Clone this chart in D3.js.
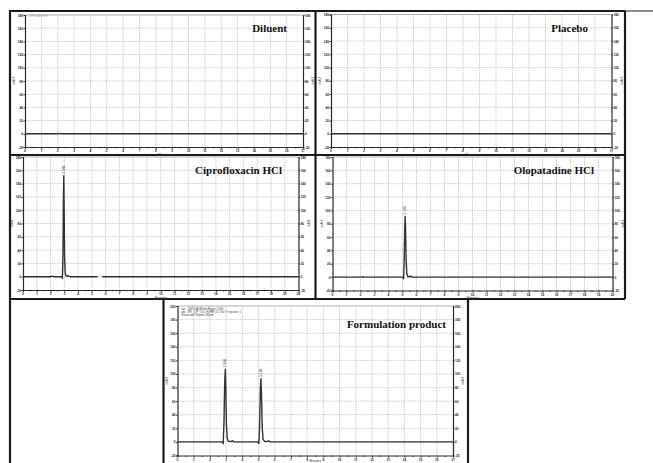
<!DOCTYPE html>
<html>
<head>
<meta charset="utf-8">
<script src="https://cdn.jsdelivr.net/npm/d3@7"></script>
<style>
  body { margin: 0; background: #fff; }
  svg { display: block; }
</style>
</head>
<body>
<svg id="chart" width="653" height="463"></svg>
<script>
// ---- data ----
const panelTitles = ["Diluent", "Placebo", "Ciprofloxacin HCl", "Olopatadine HCl", "Formulation product"];
const runMinutes = [17, 17, 20, 20, 17];
const yTicksStd = [-20, 0, 20, 40, 60, 80, 100, 120, 140, 160, 180];
const yTicksForm = [-20, 0, 20, 40, 60, 80, 100, 120, 140, 160, 180, 200];

// chromatogram traces: [minutes, mAU]; null marks a break in the trace
const diluentTrace = [[0, 0], [2.0, 0], [2.1, 0.6], [2.2, 0], [17, 0]];
const placeboTrace = [[0, 0], [17, 0]];
const ciproTrace = [
  [0, 0], [2.0, 0], [2.1, 0.8], [2.2, 0], [2.82, 0], [2.86, -2.5], [2.9, 30],
  [2.93, 110], [2.96, 152], [2.99, 95], [3.02, 30], [3.06, 6], [3.12, 1.5],
  [3.2, 0.5], [3.3, 1.6], [3.38, 0], [5.42, 0], null, [5.74, 0], [20, 0]
];
const olopatadineTrace = [
  [0, 0], [2.1, 0], [2.15, 0.6], [2.3, 0], [5.02, 0], [5.08, -2.5], [5.12, 25],
  [5.16, 75], [5.19, 91], [5.22, 70], [5.26, 25], [5.31, 5], [5.38, 1],
  [5.45, 0.5], [5.6, 1.8], [5.68, 0], [20, 0]
];
const formulationTrace = [
  [0, 0], [2.75, 0], [2.82, -2.5], [2.87, 30], [2.91, 85], [2.95, 107],
  [2.98, 80], [3.02, 25], [3.07, 5], [3.14, 1], [3.3, 0.5], [3.4, 1.8],
  [3.48, 0], [4.96, 0], [5.02, -2.5], [5.07, 25], [5.11, 75], [5.15, 93],
  [5.19, 65], [5.23, 20], [5.28, 4], [5.36, 1], [5.5, 0.5], [5.62, 1.6],
  [5.7, 0], [17, 0]
];
const peakLabels = [
  [],
  [],
  [{ t: 2.96, v: 152, text: "2.960" }],
  [{ t: 5.19, v: 91, text: "5.190" }],
  [{ t: 2.95, v: 107, text: "2.950" }, { t: 5.15, v: 93, text: "5.150" }]
];
const legendLines = [
  ["2487ChA 280nm Range: 2.000", "SPL_CIP_OLO_FORM_01; Vial: 3; Injection: 1", "Processed Channel: 280nm"]
];
const traces = [diluentTrace, placeboTrace, ciproTrace, olopatadineTrace, formulationTrace];
const yTickSets = [yTicksStd, yTicksStd, yTicksStd, yTicksStd, yTicksForm];

// ---- layout ----
const plotAreas = [
  { x0: 25, x1: 303, y0: 15, y1: 147 },
  { x0: 331, x1: 611.5, y0: 14.5, y1: 147 },
  { x0: 23, x1: 298.5, y0: 157, y1: 290 },
  { x0: 332.5, x1: 612.5, y0: 157, y1: 290.5 },
  { x0: 177.5, x1: 453, y0: 306, y1: 455.5 }
];
const titleAnchors = [
  { x: 287, y: 31.5 }, { x: 588, y: 31.5 }, { x: 282, y: 173.5 },
  { x: 594, y: 173.5 }, { x: 446, y: 327.5 }
];

const svg = d3.select("#chart");

// outer frame
const frame = svg.append("g").attr("stroke", "#1a1a1a").attr("fill", "none");
frame.append("path").attr("stroke-width", 2.2)
  .attr("d", "M10,11H625 M10,155H625 M10,299H625 M10,10V463 M315.5,11V299 M625,11V299 M163.5,299V463 M468,299V463");
frame.append("path").attr("stroke-width", 1).attr("d", "M625,11H653");

const tinyFont = "Liberation Sans, Arial, sans-serif";

panelTitles.forEach((title, i) => {
  const a = plotAreas[i];
  const yt = yTickSets[i];
  const x = d3.scaleLinear().domain([0, runMinutes[i]]).range([a.x0, a.x1]);
  const y = d3.scaleLinear().domain([yt[0], yt[yt.length - 1]]).range([a.y1, a.y0]);
  const g = svg.append("g");

  // grid
  const xTicks = d3.range(0, runMinutes[i] + 1);
  g.append("g").selectAll("line").data(xTicks.slice(1, -1)).join("line")
    .attr("x1", d => x(d)).attr("x2", d => x(d)).attr("y1", a.y0).attr("y2", a.y1)
    .attr("stroke", "#bdbdbd").attr("stroke-width", 0.8).attr("stroke-dasharray", "1.4,1");
  g.append("g").selectAll("line").data(yt.slice(1, -1)).join("line")
    .attr("x1", a.x0).attr("x2", a.x1).attr("y1", d => y(d)).attr("y2", d => y(d))
    .attr("stroke", "#bdbdbd").attr("stroke-width", 0.8).attr("stroke-dasharray", "1.4,1");
  g.append("line").attr("x1", a.x0).attr("x2", a.x1).attr("y1", a.y0).attr("y2", a.y0)
    .attr("stroke", "#999").attr("stroke-width", 0.8);

  // axes: bottom, left, right
  const axisBottom = d3.axisBottom(x).tickValues(d3.range(0, runMinutes[i] + 0.01, 0.5))
    .tickSize(0).tickFormat("");
  const bx = g.append("g").attr("transform", `translate(0,${a.y1})`).call(axisBottom);
  bx.select(".domain").attr("stroke", "#2a2a2a").attr("stroke-width", 1.2);
  bx.selectAll(".tick line").attr("y2", d => (d % 1 === 0 ? 2.2 : 1.4)).attr("stroke", "#333");
  g.append("g").selectAll("text").data(xTicks).join("text")
    .attr("x", d => x(d)).attr("y", a.y1 + 5.2).attr("text-anchor", "middle")
    .attr("font-family", tinyFont).attr("font-size", 3.2).attr("font-weight", "bold")
    .attr("fill", "#222").text(d => d);

  const axL = g.append("g").attr("transform", `translate(${a.x0},0)`)
    .call(d3.axisLeft(y).tickValues(yt).tickSize(1.5).tickFormat(d => d));
  const axR = g.append("g").attr("transform", `translate(${a.x1},0)`)
    .call(d3.axisRight(y).tickValues(yt).tickSize(1.5).tickFormat(d => d));
  [axL, axR].forEach(ax => {
    ax.select(".domain").attr("stroke", "#2a2a2a").attr("stroke-width", 1.2);
    ax.selectAll(".tick line").attr("stroke", "#333");
    ax.selectAll(".tick text").attr("font-family", tinyFont).attr("font-size", 3.2)
      .attr("font-weight", "bold").attr("fill", "#222");
  });
  axL.selectAll(".tick text").attr("x", -2);
  axR.selectAll(".tick text").attr("x", 2);

  // axis titles
  const midY = (a.y0 + a.y1) / 2;
  g.append("text").attr("transform", `translate(${a.x0 - 10},${midY}) rotate(-90)`)
    .attr("text-anchor", "middle").attr("font-family", tinyFont).attr("font-size", 3.4)
    .attr("fill", "#333").text("mAU");
  g.append("text").attr("transform", `translate(${a.x1 + 11},${midY}) rotate(-90)`)
    .attr("text-anchor", "middle").attr("font-family", tinyFont).attr("font-size", 3.4)
    .attr("fill", "#333").text("mAU");
  g.append("text").attr("x", (a.x0 + a.x1) / 2).attr("y", Math.min(a.y1 + 8.5, 461.5))
    .attr("text-anchor", "middle").attr("font-family", tinyFont).attr("font-size", 3.4)
    .attr("fill", "#333").text("Minutes");

  // trace
  const line = d3.line().defined(d => d !== null).x(d => x(d[0])).y(d => y(d[1]));
  g.append("path").datum(traces[i]).attr("d", line)
    .attr("fill", "none").attr("stroke", "#333").attr("stroke-width", 1.4)
    .attr("stroke-linejoin", "round");

  // retention-time labels above peaks
  g.append("g").selectAll("text").data(peakLabels[i]).join("text")
    .attr("transform", d => `translate(${x(d.t) + 1},${y(d.v) - 2}) rotate(-90)`)
    .attr("font-family", tinyFont).attr("font-size", 3.2).attr("fill", "#444")
    .text(d => d.text);

  // panel title
  g.append("text").attr("x", titleAnchors[i].x).attr("y", titleAnchors[i].y)
    .attr("text-anchor", "end").attr("font-family", "Liberation Serif, Times New Roman, serif")
    .attr("font-weight", "bold").attr("font-size", 11).attr("fill", "#111")
    .text(title);
});

// run legends in the plot corners
{
  const a = plotAreas[4];
  const lg = svg.append("g");
  legendLines[0].forEach((t, k) => {
    if (k < 2) {
      lg.append("line").attr("x1", a.x0 + 4).attr("x2", a.x0 + 8)
        .attr("y1", a.y0 + 3 + k * 3).attr("y2", a.y0 + 3 + k * 3)
        .attr("stroke", "#333").attr("stroke-width", 0.8);
    }
    lg.append("text").attr("x", k < 2 ? a.x0 + 10 : a.x0 + 4).attr("y", a.y0 + 4 + k * 3)
      .attr("font-family", tinyFont).attr("font-size", 2.6).attr("fill", "#333").text(t);
  });
  const d = plotAreas[0];
  svg.append("text").attr("x", d.x0 + 4).attr("y", d.y0 + 1.5)
    .attr("font-family", tinyFont).attr("font-size", 2.6).attr("fill", "#999")
    .text("2487ChA 280nm");
}
</script>
</body>
</html>
